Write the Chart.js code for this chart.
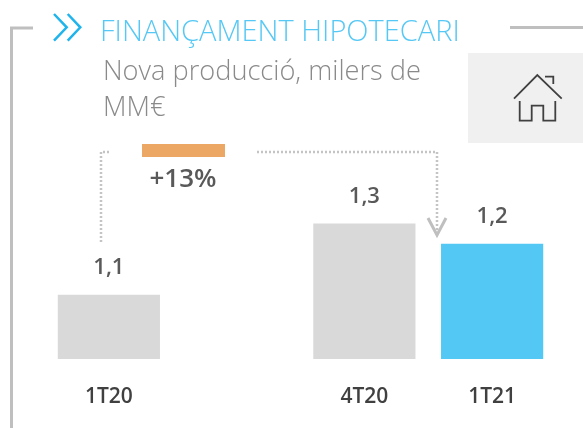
<!DOCTYPE html>
<html><head><meta charset="utf-8">
<script src="https://cdn.jsdelivr.net/npm/chart.js@4"></script>
<style>
html,body{margin:0;padding:0;background:#fff;overflow:hidden}
#w{position:relative;width:583px;height:428px;font-family:"Open Sans",sans-serif}
canvas{position:absolute;left:0;top:0}
svg{position:absolute;left:0;top:0}
.t{position:absolute;white-space:nowrap;font-weight:300}
</style></head><body>
<div id="w">
<canvas id="c" width="583" height="428"></canvas>
<svg width="583" height="428" fill="none">
<rect x="468" y="53" width="115" height="90" fill="#f0f0f0"/>
<rect x="142" y="144" width="83" height="13" fill="#eba763"/>
<path d="M33 28H11.500V428M510 27.500H583" stroke="#bfbfbf" stroke-width="3"/>
<path d="M54 14L66.700 27.300L54 40.700M67.700 14L80.300 27.300L67.700 40.700" stroke="#1fb4ec" stroke-width="2.500"/>
<path d="M101 242V152H110M257 152H437V234" stroke="#c4c4c4" stroke-width="2.500" stroke-dasharray="2 2"/>
<path d="M428 218L437 235L446 218" stroke="#bfbfbf" stroke-width="3"/>
<path d="M514 98.700L537.300 75L561.700 98.700M545 76.700H553.300V84M519.700 101V120.700H531.700V105.700H543.300V120.700H555.300V101" stroke="#404040" stroke-width="1.800"/>
</svg>
<div class="t" style="left:100px;top:10px;font-size:29px;color:#55c8f5" id="title"></div>
<div class="t" style="left:103px;top:52px;font-size:27.200px;line-height:36px;color:#8a8a8a;white-space:pre" id="sub"></div>
<div class="t" style="left:133px;width:100px;text-align:center;top:159px;font-size:26px;font-weight:600;color:#595959" id="delta"></div>
</div>
<script>
const titleText = "FINANÇAMENT HIPOTECARI";
const subtitleText = "Nova producció, milers de\nMM€";
const deltaText = "+13%";
const categories = ["1T20", "", "4T20", "1T21"];
const values = [1.1, null, 1.3, 1.243];
const barColors = ["#d9d9d9", "#d9d9d9", "#d9d9d9", "#53c8f5"];

document.getElementById("title").textContent = titleText;
document.getElementById("sub").textContent = subtitleText;
document.getElementById("delta").textContent = deltaText;

const valueLabels = {
  id: "valueLabels",
  afterDatasetsDraw(chart) {
    const ctx = chart.ctx;
    const meta = chart.getDatasetMeta(0);
    ctx.save();
    ctx.font = "600 22px 'Open Sans'";
    ctx.fillStyle = "#595959";
    ctx.textAlign = "center";
    ctx.textBaseline = "middle";
    meta.data.forEach((bar, i) => {
      if (values[i] == null) return;
      ctx.fillText(values[i].toFixed(1).replace(".", ","), bar.x, bar.y - 27);
    });
    ctx.restore();
  }
};

new Chart(document.getElementById("c"), {
  type: "bar",
  data: { labels: categories, datasets: [{ data: values, backgroundColor: barColors, categoryPercentage: 1, barPercentage: 0.8 }] },
  options: {
    responsive: false,
    animation: false,
    layout: { padding: { left: 45, right: 27, top: 145, bottom: 0 } },
    plugins: { legend: { display: false }, tooltip: { enabled: false } },
    scales: {
      x: {
        grid: { display: false },
        border: { display: false },
        ticks: { color: "#404040", font: { family: "Open Sans", size: 21, weight: "600" }, padding: 17, maxRotation: 0, autoSkip: false },
        afterFit(s) { s.height = 69; }
      },
      y: { display: false, min: 0.92, max: 1.52 }
    }
  },
  plugins: [valueLabels]
});
</script>
</body></html>
